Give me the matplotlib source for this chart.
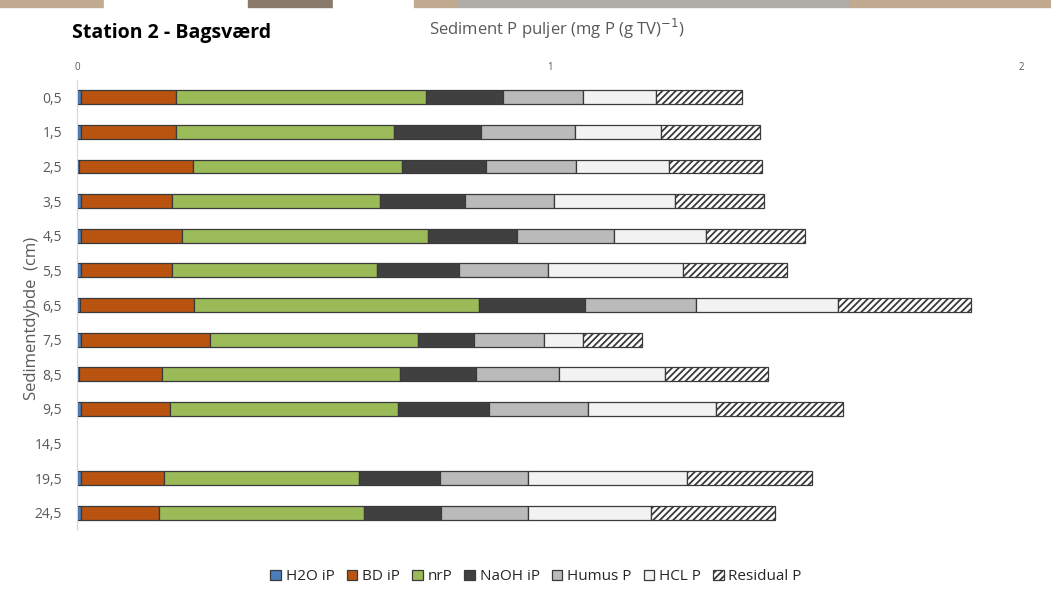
import numpy as np
import matplotlib
matplotlib.use("Agg")
import matplotlib.pyplot as plt
from matplotlib.patches import Rectangle

plt.rcParams['font.family'] = ['Open Sans', 'DejaVu Sans']
plt.rcParams['hatch.linewidth'] = 1.3

# dybder (cm) og P-puljer (mg P (g TV)-1); 14,5 cm er ikke målt
nan = np.nan
depths = ['0,5', '1,5', '2,5', '3,5', '4,5', '5,5', '6,5', '7,5', '8,5', '9,5', '14,5', '19,5', '24,5']
h2o_ip = [0.007, 0.007, 0.003, 0.007, 0.007, 0.007, 0.005, 0.007, 0.003, 0.007, nan, 0.007, 0.007]
bd_ip = [0.202, 0.201, 0.242, 0.194, 0.214, 0.194, 0.242, 0.273, 0.176, 0.189, nan, 0.177, 0.165]
nrp = [0.529, 0.462, 0.443, 0.439, 0.522, 0.433, 0.603, 0.441, 0.504, 0.484, nan, 0.413, 0.435]
naoh_ip = [0.163, 0.184, 0.178, 0.182, 0.188, 0.174, 0.225, 0.120, 0.162, 0.191, nan, 0.172, 0.163]
humus_p = [0.170, 0.199, 0.191, 0.188, 0.205, 0.189, 0.236, 0.147, 0.176, 0.211, nan, 0.186, 0.184]
hcl_p = [0.155, 0.184, 0.196, 0.256, 0.195, 0.286, 0.300, 0.082, 0.224, 0.271, nan, 0.336, 0.261]
residual_p = [0.182, 0.208, 0.197, 0.189, 0.210, 0.221, 0.281, 0.126, 0.218, 0.269, nan, 0.265, 0.263]

series = [
    ('H2O iP', h2o_ip, '#4a7ebb', None),
    ('BD iP', bd_ip, '#b85410', None),
    ('nrP', nrp, '#9bbb59', None),
    ('NaOH iP', naoh_ip, '#404040', None),
    ('Humus P', humus_p, '#bababa', None),
    ('HCL P', hcl_p, '#f2f2f2', None),
    ('Residual P', residual_p, 'white', '/////'),
]

fig = plt.figure(figsize=(10.51, 5.96), dpi=100)
ax = fig.add_axes([0.0737, 0.1107, 0.8983, 0.7551])

y = np.arange(len(depths))
left = np.zeros(len(depths))
for name, vals, color, hatch in series:
    vals = np.array(vals)
    ax.barh(y, vals, left=left, height=0.4, color=color, edgecolor='#3a3a3a',
            linewidth=0.9, hatch=hatch, label=name)
    left += vals

ax.set_xlim(0, 2)
ax.set_ylim(len(depths) - 0.5, -0.5)
ax.set_yticks(y)
ax.set_yticklabels(depths)
ax.set_xticks([0, 1, 2])
ax.set_xticklabels(['0', '1', '2'])
ax.xaxis.tick_top()
ax.tick_params(axis='x', length=0, labelsize=7, labelcolor='#595959', pad=5)
ax.tick_params(axis='y', length=0, labelsize=10, labelcolor='#595959', pad=11)
for s in ['top', 'right', 'bottom']:
    ax.spines[s].set_visible(False)
ax.spines['left'].set_color('#d9d9d9')

ax.set_ylabel('Sedimentdybde  (cm)', fontsize=12, color='#595959')
ax.yaxis.set_label_coords(-0.04, 0.47)

fig.text(0.0685, 0.945, 'Station 2 - Bagsværd', fontsize=14, fontweight='bold',
         color='black', va='center', ha='left')
fig.text(0.53, 0.952, 'Sediment P puljer (mg P (g TV)$^{-1}$)', fontsize=12,
         color='#595959', va='center', ha='center')

handles, labels = ax.get_legend_handles_labels()
fig.legend(handles, labels, loc='center', bbox_to_anchor=(0.51, 0.032), ncol=7,
           frameon=False, fontsize=11, handlelength=0.7, handleheight=0.7,
           handletextpad=0.3, columnspacing=0.8, labelcolor='#262626')

# tynd bjælke øverst
strip = [(0, 104, '#c0aa90'), (104, 248, '#ffffff'), (248, 333, '#8a7a6a'),
         (333, 414, '#ffffff'), (414, 458, '#c0aa90'), (458, 850, '#b0aca8'),
         (850, 1051, '#c0aa90')]
for x0, x1, c in strip:
    fig.patches.append(Rectangle((x0 / 1051, 1 - 7 / 596), (x1 - x0) / 1051, 7 / 596,
                                 transform=fig.transFigure, color=c, zorder=5))

fig.savefig('out.png', dpi=100)
